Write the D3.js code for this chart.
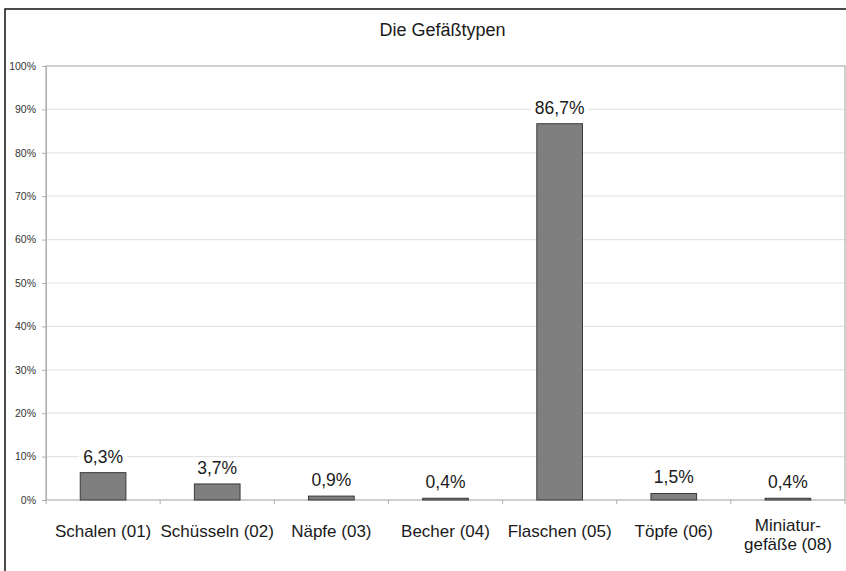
<!DOCTYPE html>
<html>
<head>
<meta charset="utf-8">
<script src="https://cdn.jsdelivr.net/npm/d3@7"></script>
<style>
  html, body { margin: 0; padding: 0; background: #fff; }
  svg { display: block; font-family: "Liberation Sans", Arial, sans-serif; }
</style>
</head>
<body>
<svg id="chart" width="846" height="571"></svg>
<script>
// Vessel types and their share in percent
const categories = [
  ["Schalen (01)"],
  ["Schüsseln (02)"],
  ["Näpfe (03)"],
  ["Becher (04)"],
  ["Flaschen (05)"],
  ["Töpfe (06)"],
  ["Miniatur-", "gefäße (08)"]
];
const values = [6.3, 3.7, 0.9, 0.4, 86.7, 1.5, 0.4];
const valueLabels = ["6,3%", "3,7%", "0,9%", "0,4%", "86,7%", "1,5%", "0,4%"];
const yTicks = [0, 10, 20, 30, 40, 50, 60, 70, 80, 90, 100];
const title = "Die Gefäßtypen";

const svg = d3.select("#chart");
const W = 846, H = 571;
const plot = { left: 46, top: 66, right: 845, bottom: 500 };

// outer frame (left and top edges visible)
svg.append("path")
  .attr("d", `M5,${H} L5,9 L${W},9`)
  .attr("fill", "none")
  .attr("stroke", "#111")
  .attr("stroke-width", 1.5);

// title
svg.append("text")
  .attr("x", (plot.left + plot.right) / 2 - 3)
  .attr("y", 36)
  .attr("text-anchor", "middle")
  .attr("font-size", 18)
  .attr("fill", "#1a1a1a")
  .text(title);

const x = d3.scaleBand()
  .domain(d3.range(categories.length))
  .range([plot.left, plot.right])
  .paddingInner(0.6)
  .paddingOuter(0.3);

const y = d3.scaleLinear()
  .domain([0, 100])
  .range([plot.bottom, plot.top]);

// gridlines
svg.append("g")
  .selectAll("line")
  .data(yTicks.filter(t => t > 0 && t < 100))
  .join("line")
  .attr("x1", plot.left).attr("x2", plot.right)
  .attr("y1", d => y(d)).attr("y2", d => y(d))
  .attr("stroke", "#e4e4e4")
  .attr("stroke-width", 1.2);

// plot area frame
svg.append("rect")
  .attr("x", plot.left).attr("y", plot.top)
  .attr("width", plot.right - plot.left)
  .attr("height", plot.bottom - plot.top)
  .attr("fill", "none")
  .attr("stroke", "#b0b0b0")
  .attr("stroke-width", 1.2);

// y axis
const yAxis = d3.axisLeft(y)
  .tickValues(yTicks)
  .tickFormat(d => d + "%")
  .tickSize(4)
  .tickPadding(6);
const gy = svg.append("g")
  .attr("transform", `translate(${plot.left},0)`)
  .call(yAxis);
gy.select(".domain").attr("stroke", "#b0b0b0");
gy.selectAll(".tick line").attr("stroke", "#b0b0b0");
gy.selectAll(".tick text")
  .attr("font-size", 10.5)
  .attr("font-family", "Liberation Sans, Arial, sans-serif")
  .attr("fill", "#333");

// category divider ticks below the baseline
const dividers = d3.range(categories.length + 1)
  .map(i => plot.left + i * (plot.right - plot.left) / categories.length);
svg.append("g")
  .selectAll("line")
  .data(dividers)
  .join("line")
  .attr("x1", d => d).attr("x2", d => d)
  .attr("y1", plot.bottom).attr("y2", plot.bottom + 4)
  .attr("stroke", "#b0b0b0");

// bars
svg.append("g")
  .selectAll("rect")
  .data(values)
  .join("rect")
  .attr("x", (d, i) => x(i))
  .attr("y", d => y(d))
  .attr("width", x.bandwidth())
  .attr("height", d => y(0) - y(d))
  .attr("fill", "#7f7f7f")
  .attr("stroke", "#3a3a3a")
  .attr("stroke-width", 1);

// value labels on a white backing so gridlines break around them
const lbl = svg.append("g")
  .selectAll("g")
  .data(values)
  .join("g")
  .attr("transform", (d, i) => `translate(${x(i) + x.bandwidth() / 2},${y(d) - 10})`);
lbl.append("text")
  .attr("text-anchor", "middle")
  .attr("font-size", 17.5)
  .attr("fill", "#1a1a1a")
  .text((d, i) => valueLabels[i]);
lbl.each(function () {
  const g = d3.select(this);
  const bb = g.select("text").node().getBBox();
  g.insert("rect", "text")
    .attr("x", bb.x - 4).attr("y", bb.y)
    .attr("width", bb.width + 8).attr("height", bb.height)
    .attr("fill", "#fff");
});

// category labels
const cat = svg.append("g")
  .selectAll("text")
  .data(categories)
  .join("text")
  .attr("x", (d, i) => x(i) + x.bandwidth() / 2)
  .attr("y", d => d.length > 1 ? 531 : 537)
  .attr("text-anchor", "middle")
  .attr("font-size", 17)
  .attr("fill", "#1a1a1a");
cat.selectAll("tspan")
  .data(d => d)
  .join("tspan")
  .attr("x", function () { return d3.select(this.parentNode).attr("x"); })
  .attr("dy", (d, i) => i === 0 ? 0 : 19)
  .text(d => d);
</script>
</body>
</html>
